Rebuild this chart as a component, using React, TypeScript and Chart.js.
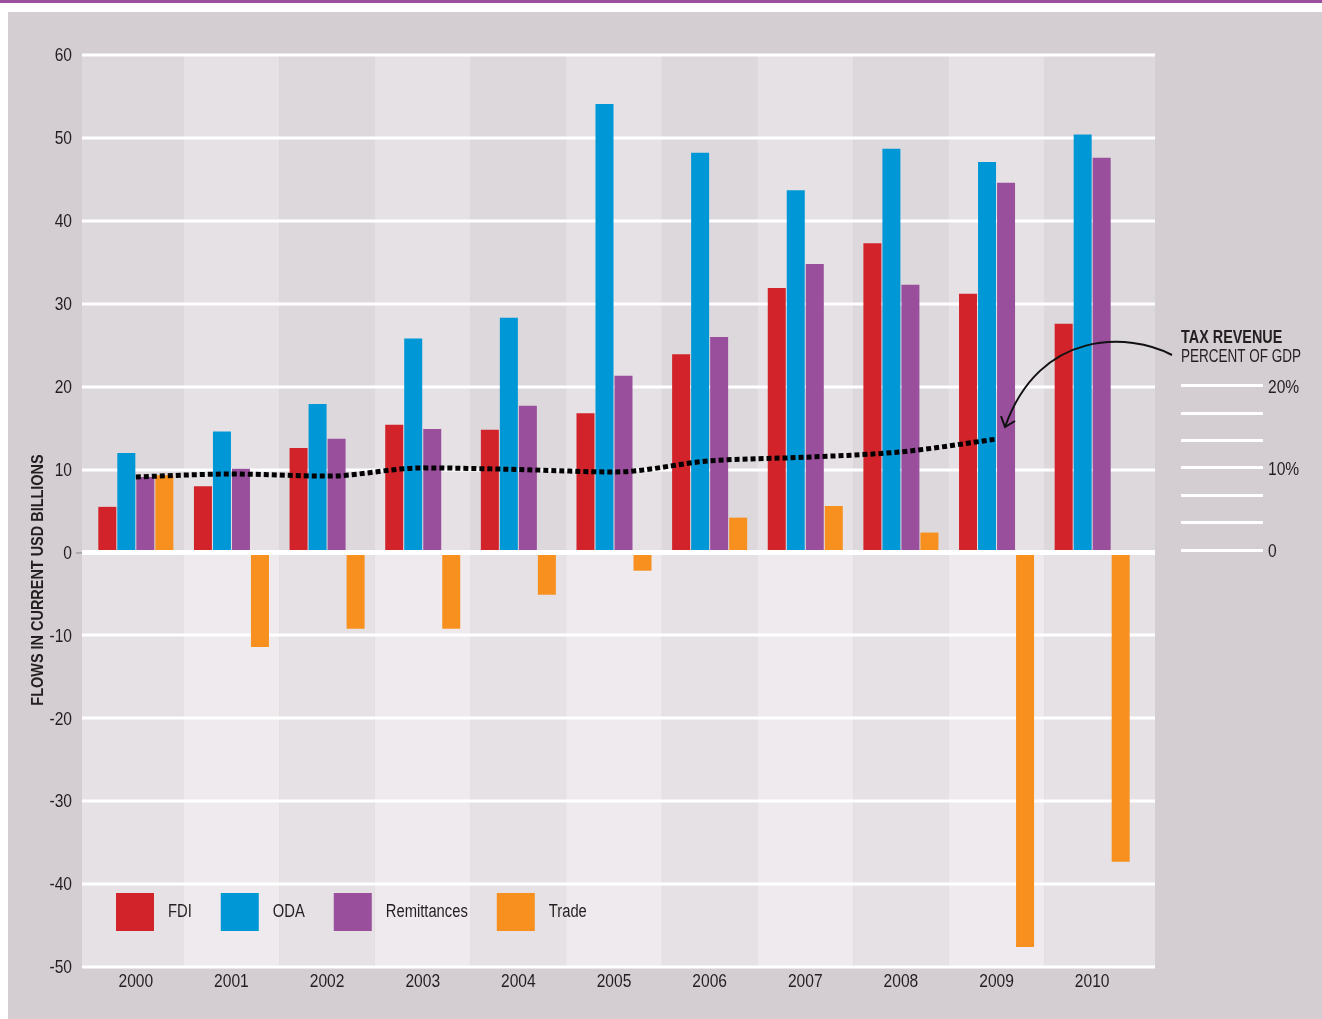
import React, { useEffect, useRef } from 'react';
import { Chart, registerables } from 'chart.js';

Chart.register(...registerables);

const years = ['2000', '2001', '2002', '2003', '2004', '2005', '2006', '2007', '2008', '2009', '2010'];
const fdi = [5.5, 8.0, 12.6, 15.4, 14.8, 16.8, 23.9, 31.9, 37.3, 31.2, 27.6];
const oda = [12.0, 14.6, 17.9, 25.8, 28.3, 54.1, 48.2, 43.7, 48.7, 47.1, 50.4];
const remittances = [9.1, 10.1, 13.7, 14.9, 17.7, 21.3, 26.0, 34.8, 32.3, 44.6, 47.6];
const trade = [9.3, -11.4, -9.2, -9.2, -5.1, -2.2, 4.2, 5.6, 2.4, -47.6, -37.3];
const taxRevenue = [8.9, 9.25, 9.0, 10.0, 9.8, 9.5, 10.85, 11.3, 11.95, 13.5, null];

const flowTicks = [-50, -40, -30, -20, -10, 0, 10, 20, 30, 40, 50, 60];
const taxTickValues = [0, 10 / 3, 20 / 3, 10, 40 / 3, 50 / 3, 20];
const taxTickLabels = ['0', '', '', '10%', '', '', '20%'];

const seriesNames = ['FDI', 'ODA', 'Remittances', 'Trade'];
const seriesColors = ['#d2232a', '#0097d6', '#9a4f9d', '#f7901e'];

const FONT = "'Liberation Sans', Arial, sans-serif";
const SQUEEZE = 0.82;
const TEXT = '#231f20';

const EXT_LEFT = 6;
const EXT_RIGHT = 15;

function drawText(
  ctx: CanvasRenderingContext2D,
  text: string,
  x: number,
  y: number,
  size: number,
  bold: boolean,
  align: CanvasTextAlign,
  rotate = 0,
  squeeze = SQUEEZE,
) {
  ctx.save();
  ctx.font = `${bold ? 'bold ' : ''}${size}px ${FONT}`;
  ctx.fillStyle = TEXT;
  ctx.textAlign = align;
  ctx.textBaseline = 'middle';
  ctx.translate(x, y);
  if (rotate) ctx.rotate(rotate);
  ctx.scale(squeeze, 1);
  ctx.fillText(text, 0, 0);
  ctx.restore();
}

function textWidth(ctx: CanvasRenderingContext2D, text: string, size: number, bold: boolean) {
  ctx.save();
  ctx.font = `${bold ? 'bold ' : ''}${size}px ${FONT}`;
  const w = ctx.measureText(text).width * SQUEEZE;
  ctx.restore();
  return w;
}

const backdropPlugin = {
  id: 'backdrop',
  beforeDatasetsDraw(chart: any) {
    const { ctx, chartArea } = chart;
    const xs = chart.scales.x;
    const ys = chart.scales.y;
    const left = chartArea.left - EXT_LEFT;
    const right = chartArea.right + EXT_RIGHT;
    const zero = ys.getPixelForValue(0);
    const n = years.length;
    ctx.save();
    for (let i = 0; i < n; i++) {
      const x0 = i === 0 ? left : (xs.getPixelForValue(i - 1) + xs.getPixelForValue(i)) / 2;
      const x1 = i === n - 1 ? right : (xs.getPixelForValue(i) + xs.getPixelForValue(i + 1)) / 2;
      const even = i % 2 === 0;
      ctx.fillStyle = even ? '#ddd8dc' : '#e5e1e4';
      ctx.fillRect(x0, chartArea.top, x1 - x0, zero - chartArea.top);
      ctx.fillStyle = even ? '#e5e1e4' : '#eeeaed';
      ctx.fillRect(x0, zero, x1 - x0, chartArea.bottom - zero);
    }
    ctx.strokeStyle = '#ffffff';
    ctx.lineWidth = 3;
    for (const v of flowTicks) {
      if (v === 0) continue;
      const y = Math.round(ys.getPixelForValue(v));
      ctx.beginPath();
      ctx.moveTo(left, y);
      ctx.lineTo(right, y);
      ctx.stroke();
    }
    ctx.strokeStyle = '#8a8589';
    ctx.lineWidth = 1;
    ctx.beginPath();
    ctx.moveTo(left - 6, zero + 0.5);
    ctx.lineTo(left, zero + 0.5);
    ctx.stroke();
    ctx.restore();
  },
  afterDatasetsDraw(chart: any) {
    const { ctx, chartArea } = chart;
    const ys = chart.scales.y;
    const left = chartArea.left - EXT_LEFT;
    const right = chartArea.right + EXT_RIGHT;
    const zero = ys.getPixelForValue(0);
    ctx.save();
    ctx.strokeStyle = '#ffffff';
    ctx.lineWidth = 5;
    ctx.beginPath();
    ctx.moveTo(left, zero);
    ctx.lineTo(right, zero);
    ctx.stroke();
    ctx.restore();
  },
  afterDraw(chart: any) {
    const { ctx, chartArea } = chart;
    const xs = chart.scales.x;
    const ys = chart.scales.y;
    const y2 = chart.scales.y2;

    ys.ticks.forEach((t: any) => {
      drawText(ctx, String(t.label), chartArea.left - EXT_LEFT - 10, ys.getPixelForValue(t.value) + 1, 19, false, 'right');
    });
    xs.ticks.forEach((t: any, i: number) => {
      drawText(ctx, String(t.label), xs.getPixelForTick(i), chartArea.bottom + 15, 19, false, 'center');
    });
    y2.ticks.forEach((t: any) => {
      if (!t.label) return;
      drawText(ctx, String(t.label), chartArea.right + 128, y2.getPixelForValue(t.value) + 2, 19, false, 'left');
    });

    drawText(ctx, 'FLOWS IN CURRENT USD BILLIONS', 38, 580, 17, true, 'center', -Math.PI / 2, 0.85);

    let x = 116;
    const top = 893;
    const size = 38;
    chart.data.datasets.forEach((ds: any) => {
      if (ds.type === 'line') return;
      ctx.save();
      ctx.fillStyle = ds.backgroundColor;
      ctx.fillRect(x, top, size, size);
      ctx.restore();
      const tx = x + size + 14;
      drawText(ctx, ds.label, tx, top + size / 2, 18, false, 'left');
      x = tx + textWidth(ctx, ds.label, 18, false) + 29;
    });

    drawText(ctx, 'TAX REVENUE', 1181, 338, 18, true, 'left', 0, 0.8);
    drawText(ctx, 'PERCENT OF GDP', 1181, 357, 18, false, 'left', 0, 0.75);
    ctx.save();
    ctx.strokeStyle = '#111';
    ctx.lineWidth = 2;
    ctx.beginPath();
    ctx.moveTo(1172, 355);
    ctx.bezierCurveTo(1130, 333, 1040, 328, 1005, 427);
    ctx.stroke();
    ctx.beginPath();
    ctx.moveTo(1001, 416);
    ctx.lineTo(1005, 427);
    ctx.lineTo(1015, 421);
    ctx.stroke();
    ctx.restore();
  },
};

export default function App() {
  const canvasRef = useRef<HTMLCanvasElement | null>(null);

  useEffect(() => {
    if (!canvasRef.current) return;
    const barSets = [fdi, oda, remittances, trade].map((d, i) => ({
      type: 'bar' as const,
      label: seriesNames[i],
      data: d,
      backgroundColor: seriesColors[i],
      borderWidth: 0,
      categoryPercentage: 0.795,
      barPercentage: 0.947,
      yAxisID: 'y',
      order: 2,
    }));
    const chart = new Chart(canvasRef.current, {
      type: 'bar',
      data: {
        labels: years,
        datasets: [
          {
            type: 'line' as const,
            label: 'Tax revenue',
            data: taxRevenue,
            yAxisID: 'y2',
            borderColor: '#000000',
            borderWidth: 5,
            borderDash: [5, 3],
            borderCapStyle: 'butt',
            pointRadius: 0,
            cubicInterpolationMode: 'monotone',
            fill: false,
            order: 0,
          } as any,
          ...barSets,
        ],
      },
      options: {
        responsive: false,
        animation: false,
        layout: { padding: { top: 55, left: 0, right: 0, bottom: 22 } },
        plugins: {
          legend: { display: false },
          tooltip: { enabled: false },
          title: { display: false },
        },
        scales: {
          x: {
            type: 'category',
            offset: true,
            grid: { display: false, drawTicks: false },
            border: { display: false },
            ticks: { display: false },
            afterFit: (s: any) => {
              s.height = 30;
            },
          },
          y: {
            type: 'linear',
            position: 'left',
            min: -50,
            max: 60,
            grid: { display: false, drawTicks: false },
            border: { display: false },
            afterBuildTicks: (s: any) => {
              s.ticks = flowTicks.map((v) => ({ value: v }));
            },
            ticks: { display: false },
            afterFit: (s: any) => {
              s.width = 88;
            },
          },
          y2: {
            type: 'linear',
            position: 'right',
            min: -50.76,
            max: 60.26,
            grid: {
              display: true,
              drawOnChartArea: false,
              drawTicks: true,
              tickLength: 123,
              tickWidth: 3,
              tickColor: '#ffffff',
              tickBorderDash: [0, 41, 82, 400],
            },
            border: { display: false },
            afterBuildTicks: (s: any) => {
              s.ticks = taxTickValues.map((v) => ({ value: v }));
            },
            ticks: {
              display: false,
              callback: (_v: any, i: number) => taxTickLabels[i],
            },
            afterFit: (s: any) => {
              s.width = 182;
            },
          },
        },
      },
      plugins: [backdropPlugin],
    });
    return () => chart.destroy();
  }, []);

  return (
    <div style={{ position: 'absolute', left: 0, top: 0, width: 1322, height: 1019, background: '#ffffff', overflow: 'hidden' }}>
      <div style={{ position: 'absolute', left: 0, top: 0, width: 1322, height: 3, background: '#9b4f9e' }} />
      <div style={{ position: 'absolute', left: 8, top: 12, width: 1314, height: 1007, background: '#d4ced2' }} />
      <canvas ref={canvasRef} width={1322} height={1019} style={{ position: 'absolute', left: 0, top: 0, width: 1322, height: 1019 }} />
    </div>
  );
}
